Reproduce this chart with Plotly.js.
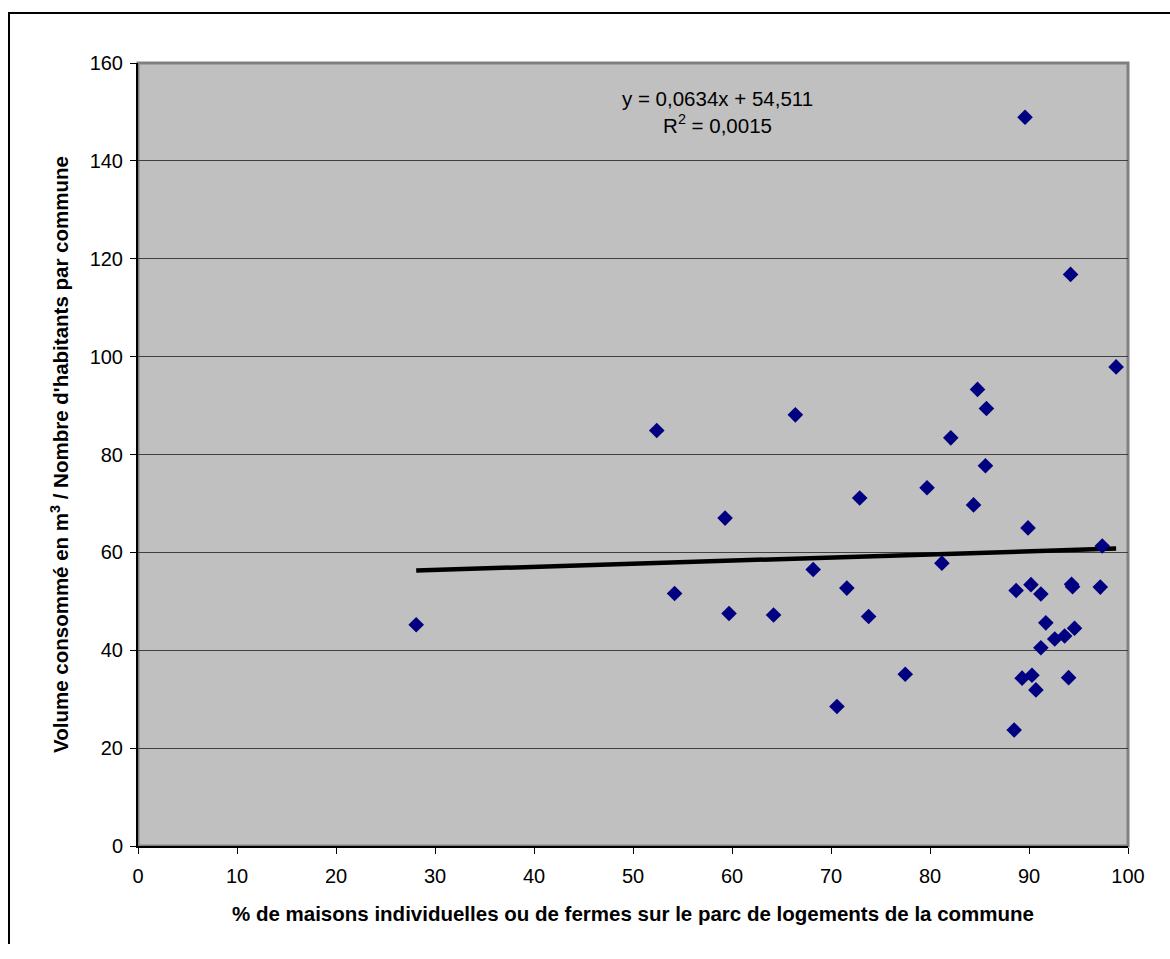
<!DOCTYPE html>
<html>
<head>
<meta charset="utf-8">
<script src="https://cdn.plot.ly/plotly-3.0.1.min.js"></script>
<style>
  html, body { margin: 0; padding: 0; background: #fff; }
  #wrap { position: relative; width: 1170px; height: 959px; }
  #chart { position: absolute; left: 0; top: 0; width: 1170px; height: 959px; }
  #frame { position: absolute; left: 8px; top: 12px; width: 1170px; height: 932px;
           border-left: 2px solid #000; border-top: 2px solid #000; box-sizing: border-box; pointer-events: none; }
</style>
</head>
<body>
<div id="wrap">
  <div id="chart"></div>
  <div id="frame"></div>
</div>
<script>
// Data
const pctMaisons = [28.1, 52.4, 54.2, 59.3, 59.7, 64.2, 66.4, 68.2, 70.6, 71.6,
                    72.9, 73.8, 77.5, 79.7, 81.2, 82.1, 84.4, 84.8, 85.6, 85.7,
                    88.5, 88.7, 89.3, 89.6, 89.9, 90.2, 90.3, 90.7, 91.2, 91.2,
                    91.7, 92.6, 93.6, 94.0, 94.2, 94.3, 94.4, 94.6, 97.2, 97.4, 98.8];
const volumeParHab = [45.2, 84.9, 51.6, 67.0, 47.5, 47.2, 88.1, 56.5, 28.5, 52.7,
                      71.1, 46.9, 35.1, 73.2, 57.8, 83.4, 69.7, 93.3, 77.7, 89.4,
                      23.7, 52.2, 34.3, 148.9, 65.0, 53.4, 34.9, 31.9, 51.5, 40.5,
                      45.6, 42.3, 42.9, 34.4, 116.8, 53.5, 53.0, 44.5, 52.9, 61.3, 97.9];
// Linear trend (as displayed on the chart)
const trendSlope = 0.0634;
const trendIntercept = 54.511;
const trendText = "y = 0,0634x + 54,511<br>R<sup>2</sup> = 0,0015";
const xTickVals = [0, 10, 20, 30, 40, 50, 60, 70, 80, 90, 100];
const yTickVals = [0, 20, 40, 60, 80, 100, 120, 140, 160];

const xMin = Math.min(...pctMaisons), xMax = Math.max(...pctMaisons);
const trendX = [xMin, xMax];
const trendY = trendX.map(v => trendSlope * v + trendIntercept);

const FONT = '"Liberation Sans", Arial, sans-serif';

const traces = [
  {
    x: trendX, y: trendY, type: 'scatter', mode: 'lines',
    line: { color: '#000000', width: 4.5 },
    hoverinfo: 'skip', showlegend: false
  },
  {
    x: pctMaisons, y: volumeParHab, type: 'scatter', mode: 'markers',
    marker: { symbol: 'diamond', size: 12, color: '#000080', line: { width: 0 } },
    showlegend: false
  }
];

const layout = {
  width: 1170, height: 959,
  margin: { l: 138, r: 42, t: 63, b: 113 },
  paper_bgcolor: '#ffffff',
  plot_bgcolor: '#c0c0c0',
  font: { family: FONT, size: 20, color: '#000' },
  showlegend: false,
  xaxis: {
    range: [0, 100], tickvals: xTickVals, ticktext: xTickVals.map(String),
    showgrid: false, zeroline: false,
    showline: true, linecolor: '#000', linewidth: 2,
    ticks: 'outside', ticklen: 6, tickcolor: '#000', tickwidth: 1,
    ticklabelstandoff: 5,
    tickfont: { family: FONT, size: 20 },
    title: { text: "% de maisons individuelles ou de fermes sur le parc de logements de la commune",
             font: { family: FONT, size: 20.5, color: '#000', weight: 'bold' }, standoff: 21 }
  },
  yaxis: {
    range: [0, 160], tickvals: yTickVals, ticktext: yTickVals.map(String),
    showgrid: true, gridcolor: '#404040', gridwidth: 1, zeroline: false,
    showline: true, linecolor: '#000', linewidth: 2,
    ticks: 'outside', ticklen: 6, tickcolor: '#000', tickwidth: 1,
    ticklabelstandoff: 3,
    tickfont: { family: FONT, size: 20 },
    title: { text: "Volume consommé en m<sup>3</sup> / Nombre d'habitants par commune",
             font: { family: FONT, size: 20.5, color: '#000', weight: 'bold' }, standoff: 15 }
  },
  shapes: [
    { type: 'rect', xref: 'paper', yref: 'paper', x0: 0, x1: 1, y0: 0, y1: 1,
      line: { color: '#808080', width: 3 }, layer: 'below' }
  ],
  annotations: [
    { x: 58.5, y: 150.0, xref: 'x', yref: 'y', yanchor: 'middle', text: trendText, showarrow: false,
      font: { family: FONT, size: 20.5, color: '#000' }, align: 'center' }
  ]
};

Plotly.newPlot('chart', traces, layout, { displayModeBar: false, staticPlot: true });
</script>
</body>
</html>
